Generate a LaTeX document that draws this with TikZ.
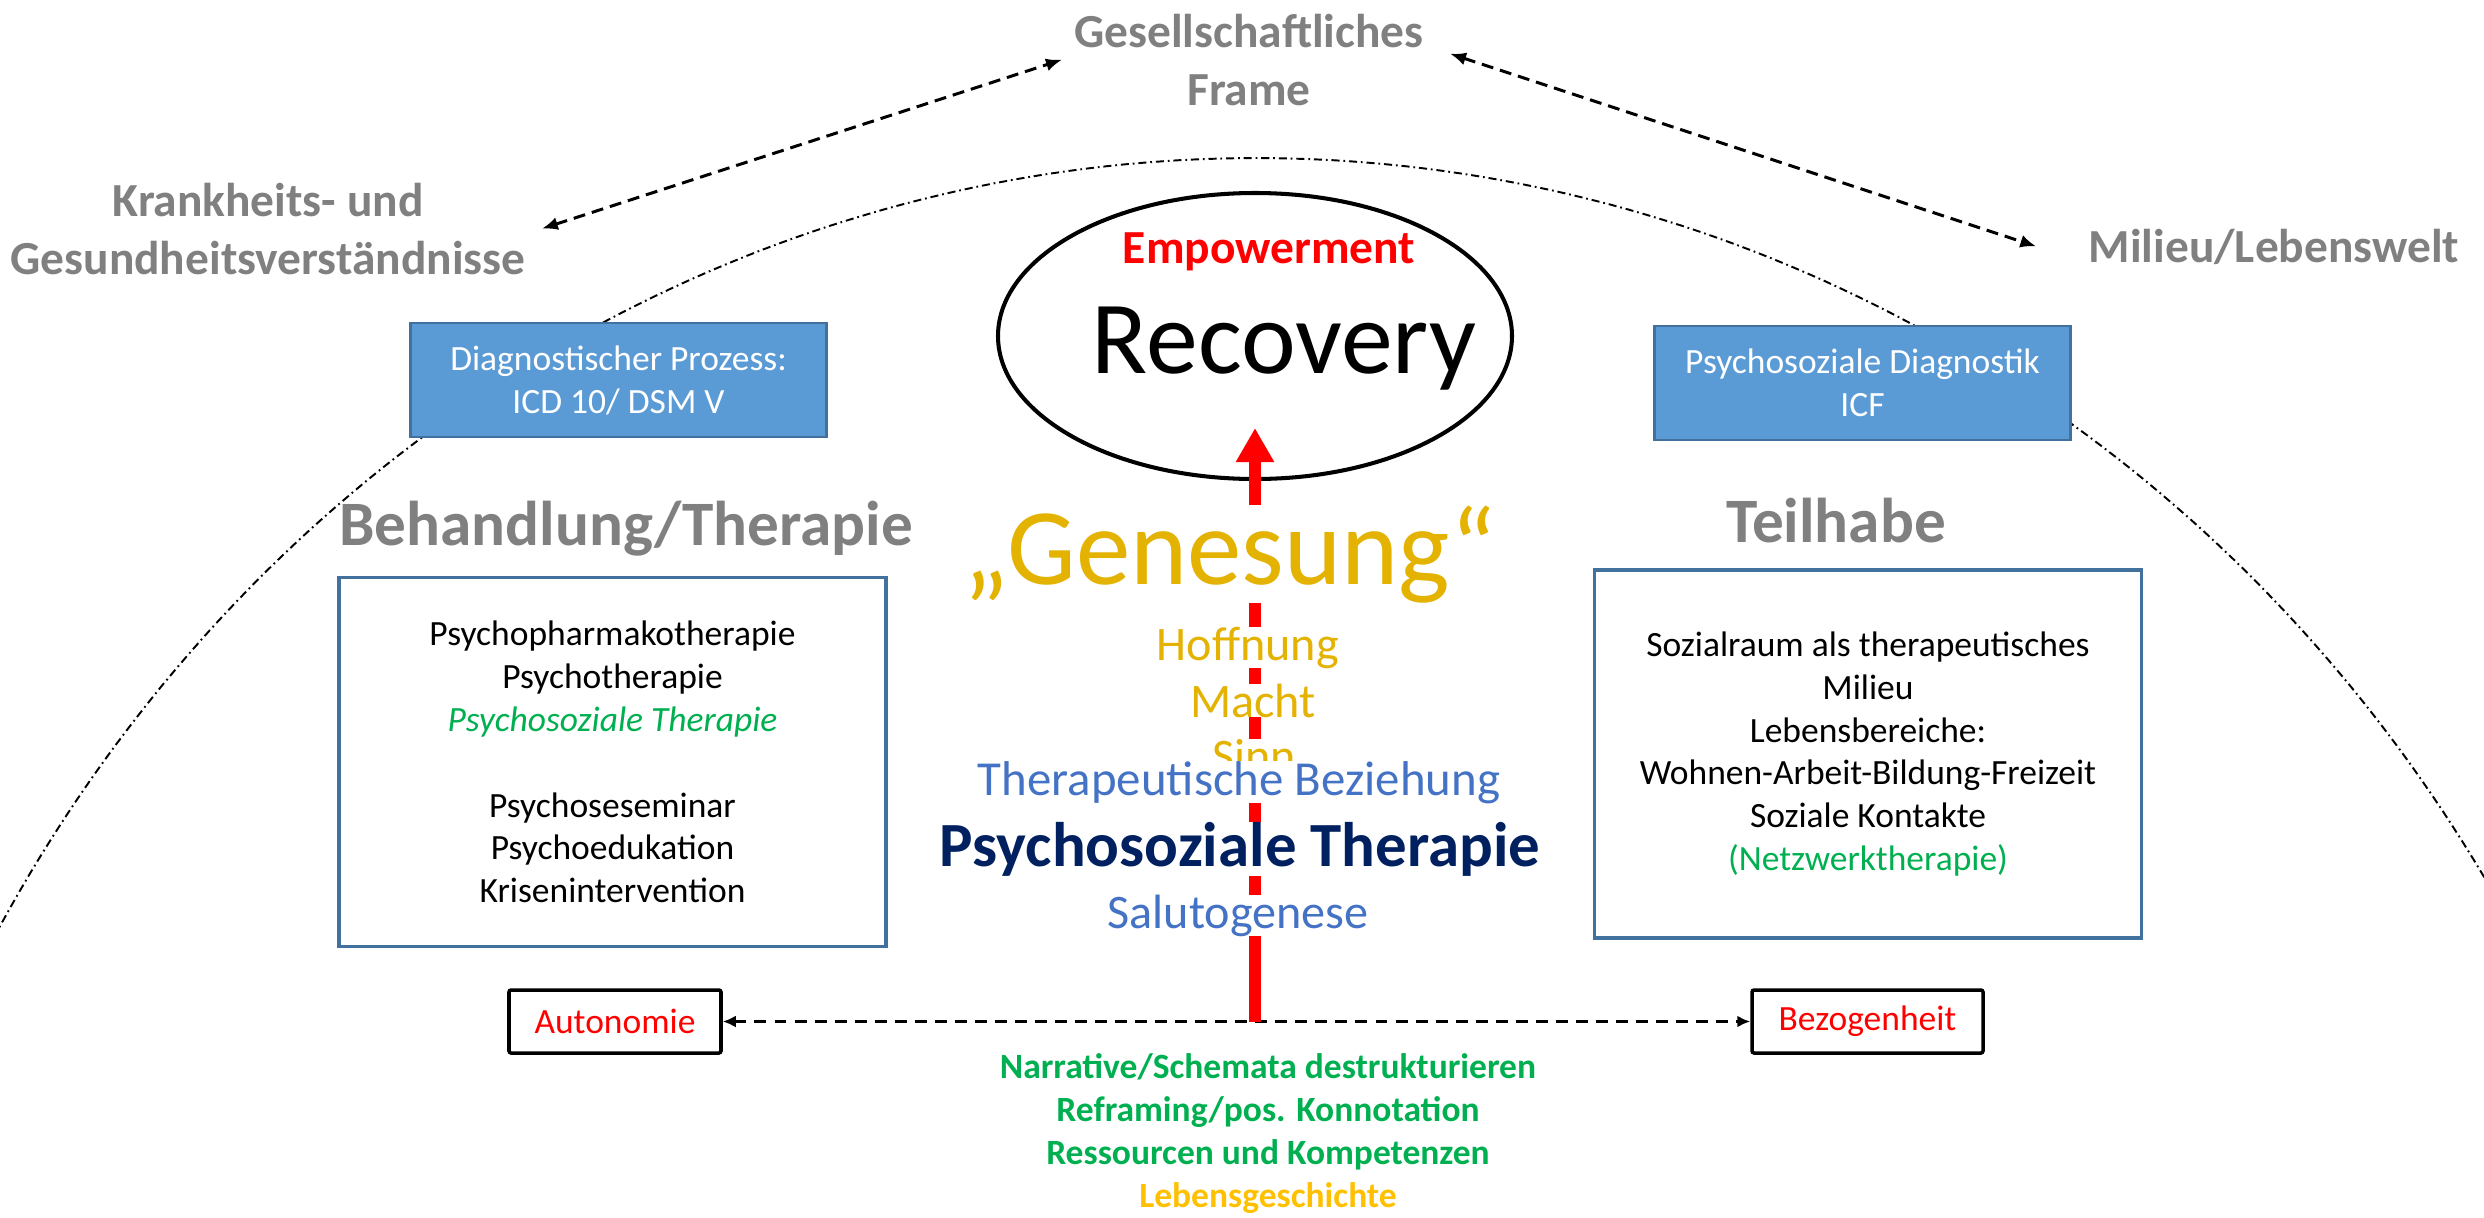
\documentclass[tikz,border=0pt]{standalone}
\usepackage{fontspec}
\setmainfont{Carlito}
\usetikzlibrary{shapes.geometric,arrows.meta}

\definecolor{headgray}{RGB}{128,128,128}
\definecolor{boxblue}{RGB}{91,155,213}
\definecolor{boxedge}{RGB}{65,113,156}
\definecolor{gold}{RGB}{228,178,0}
\definecolor{lightgold}{RGB}{255,192,0}
\definecolor{midblue}{RGB}{68,114,196}
\definecolor{navy}{RGB}{0,32,96}
\definecolor{okgreen}{RGB}{0,176,80}

\newcommand{\fsz}[2]{\fontsize{#1}{#2}\selectfont}

\begin{document}
\begin{tikzpicture}[
    heading/.style={font=\fsz{13.5}{16.4}\bfseries, text=headgray, align=center, anchor=base},
    bigheading/.style={font=\fsz{18}{21}\bfseries, text=headgray, anchor=base},
    diagbox/.style={draw=boxedge, line width=0.7pt, fill=boxblue, text=white,
        font=\fsz{10.1}{12.2}, align=center, minimum width=4.16cm, minimum height=1.14cm},
    listbox/.style={draw=boxedge, line width=1pt, font=\fsz{10.1}{12.2}, align=center,
        minimum width=5.47cm, minimum height=3.69cm},
    polebox/.style={draw, line width=1pt, rounded corners=0.6pt, text=red,
        font=\fsz{10.1}{12.2}, minimum height=0.63cm},
    midword/.style={fill=white, inner sep=0pt, anchor=base},
    link/.style={line width=0.85pt, dash pattern=on 3.4pt off 2pt,
        {Latex[length=1.6mm,width=1.3mm]}-{Latex[length=1.6mm,width=1.3mm]}},
    frameline/.style={line width=0.55pt, dash pattern=on 2.3pt off 1.1pt on 0.5pt off 1.1pt},
]
    \useasboundingbox (0,0) rectangle (24.84,-12.18);

    % Frame arc
    \draw[frameline] plot[domain=32.1:150.1, samples=160]
        ({12.56+14.5*cos(\x)}, {-16.93+15.35*sin(\x)});

    % Outer labels (base = last line)
    \node[heading] (frame) at (12.49,-1.05) {Gesellschaftliches\\Frame};
    \node[heading] (krank) at (2.68,-2.74) {Krankheits- und\\Gesundheitsverständnisse};
    \node[heading] (milieu) at (22.74,-2.62) {Milieu/Lebenswelt};

    \draw[link] ([xshift=0.4mm]krank.east) -- (frame.west);
    \draw[link] ([xshift=1.4mm,yshift=0.6mm]frame.east) -- ([xshift=-4mm]milieu.west);

    % Diagnostics
    \node[diagbox] (diag) at (6.185,-3.80) {Diagnostischer Prozess:\\ICD 10/ DSM V};
    \node[diagbox] (psydiag) at (18.625,-3.83) {Psychosoziale Diagnostik\\ICF};

    % Recovery
    \node[ellipse, draw, line width=1.15pt, minimum width=5.14cm, minimum height=2.86cm,
        inner sep=0pt] (rec) at (12.55,-3.36) {};
    \node[font=\fsz{13.5}{16}\bfseries, text=red, anchor=base] (empow) at (12.69,-2.63) {Empowerment};
    \node[font=\fsz{29.5}{34}, anchor=base] (recov) at (12.84,-3.73) {Recovery};

    % Columns
    \node[bigheading] (behand) at (6.26,-5.45) {Behandlung/Therapie};
    \node[bigheading] (teil) at (18.36,-5.42) {Teilhabe};

    \node[listbox] (treat) at (6.125,-7.62) {Psychopharmakotherapie\\Psychotherapie\\
        \textcolor{okgreen}{\textit{Psychosoziale Therapie}}\\[12.2pt]
        Psychoseseminar\\Psychoedukation\\Krisenintervention};
    \node[listbox, minimum height=3.68cm] (part) at (18.68,-7.54) {Sozialraum als therapeutisches\\Milieu\\
        Lebensbereiche:\\Wohnen-Arbeit-Bildung-Freizeit\\Soziale Kontakte\\
        \textcolor{okgreen}{(Netzwerktherapie)}};

    % Poles
    \node[polebox, minimum width=2.12cm] (auto) at (6.15,-10.215) {Autonomie};
    \node[polebox, minimum width=2.31cm] (bez) at (18.675,-10.215) {Bezogenheit};
    \draw[line width=0.8pt, dash pattern=on 3.4pt off 2.3pt,
        {Latex[length=1.3mm,width=1.2mm]}-{Latex[length=1.3mm,width=1.2mm]}] (auto.east) -- (bez.west);

    % Path to recovery
    \draw[red, line width=3.4pt, -{Triangle[length=3.4mm,width=3.6mm]}]
        (rec.south |- auto.east) -- ([yshift=5.3mm]rec.south);

    \node[midword, font=\fsz{31}{36}, text=gold] (genes) at (12.30,-5.84) {„Genesung“};
    \node[midword, font=\fsz{13.7}{16}, text=gold] (hoff) at (12.48,-6.60) {Hoffnung};
    \node[midword, font=\fsz{13.7}{16}, text=gold] (macht) at (12.53,-7.17) {Macht};
    \node[midword, font=\fsz{13.7}{16}, text=gold] (sinn) at (12.54,-7.72) {Sinn};
    \node[midword, font=\fsz{13.9}{16}, text=midblue] (therb) at (12.39,-7.95) {Therapeutische Beziehung};
    \node[midword, font=\fsz{17.9}{21}\bfseries, text=navy] (psyth) at (12.40,-8.66) {Psychosoziale Therapie};
    \node[midword, font=\fsz{13.7}{16}, text=midblue] (saluto) at (12.38,-9.28) {Salutogenese};

    % Methods
    \node[font=\fsz{10.1}{12.2}\bfseries, text=okgreen, align=center, anchor=base] (steps) at (12.68,-12.07)
        {Narrative/Schemata destrukturieren\\Reframing/pos. Konnotation\\
        Ressourcen und Kompetenzen\\\textcolor{lightgold}{Lebensgeschichte}};

\end{tikzpicture}
\end{document}
